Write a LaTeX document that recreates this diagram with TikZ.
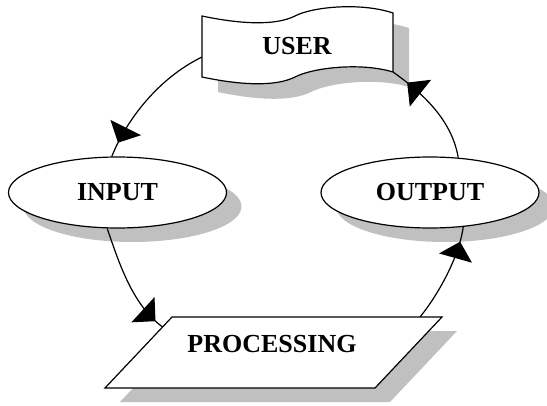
\documentclass[tikz,border=0pt]{standalone}
\usepackage{fontspec}
\setmainfont{Liberation Serif}
\usetikzlibrary{shapes.geometric,arrows.meta,decorations.markings}
\definecolor{shadowgray}{RGB}{192,192,192}
\begin{document}
\begin{tikzpicture}[x=1pt,y=-1pt,
  lbl/.style={font=\bfseries\fontsize{26}{30}\selectfont, inner sep=0pt},
  oval/.style={ellipse, draw, line width=1.2pt, fill=white, minimum width=218pt,
    minimum height=71pt, inner sep=0pt, font=\bfseries\fontsize{26}{30}\selectfont},
  shade/.style={fill=shadowgray, draw=none},
  outline/.style={draw, line width=1.2pt, fill=white, line join=miter},
  conn/.style={line width=1.2pt},
  tipmark/.style={postaction={decorate}, decoration={markings,
    mark=at position #1 with {\arrow{Triangle[length=17pt,width=34pt]}}}}
]
\useasboundingbox (0,0) rectangle (547,405);

% shadows
\fill[shade] (132.5,206.5) ellipse [x radius=109, y radius=35.5];
\fill[shade] (445,206.5) ellipse [x radius=109, y radius=35.5];
\fill[shade] (187,331) -- (457,331) -- (390,402) -- (120,402) -- cycle;
\fill[shade, shift={(16,15)}] (202,16) .. controls (240,24) and (275,26) .. (295,16)
  .. controls (312,7) and (360,2) .. (393,13) -- (393,72)
  .. controls (360,62) and (312,68) .. (295,77)
  .. controls (275,87) and (240,85) .. (202,77) -- cycle;

% nodes
\node[oval] (input) at (117.5,192.5) {INPUT};
\node[oval] (output) at (430,192.5) {OUTPUT};

% connection points on the drawn shapes
\coordinate (uin) at (202,57);
\coordinate (ucorner) at (393,72);
\coordinate (pin) at (162.6,327);
\coordinate (pout) at (420,317);

% connectors
\draw[conn, tipmark=0.89] (uin) .. controls +(-45,22) and +(14,-35) .. (input.99);
\draw[conn, tipmark=0.92] (input.254) .. controls +(12,35) and +(-30,-22) .. (pin);
\draw[conn, tipmark=0.85] (pout) .. controls +(18,-22) and +(-4,30) .. (output.314);
\draw[conn, tipmark=0.84] (output.51) .. controls +(-6,-35) and +(34,24) .. (ucorner);

% banner and parallelogram
\path[outline] (202,16) .. controls (240,24) and (275,26) .. (295,16)
  .. controls (312,7) and (360,2) .. (393,13) -- (393,72)
  .. controls (360,62) and (312,68) .. (295,77)
  .. controls (275,87) and (240,85) .. (202,77) -- cycle;
\path[outline] (172,317) -- (442,317) -- (375,388) -- (105,388) -- cycle;

\node[lbl] (user) at (297,46) {USER};
\node[lbl] (proc) at (272,344) {PROCESSING};
\end{tikzpicture}
\end{document}
